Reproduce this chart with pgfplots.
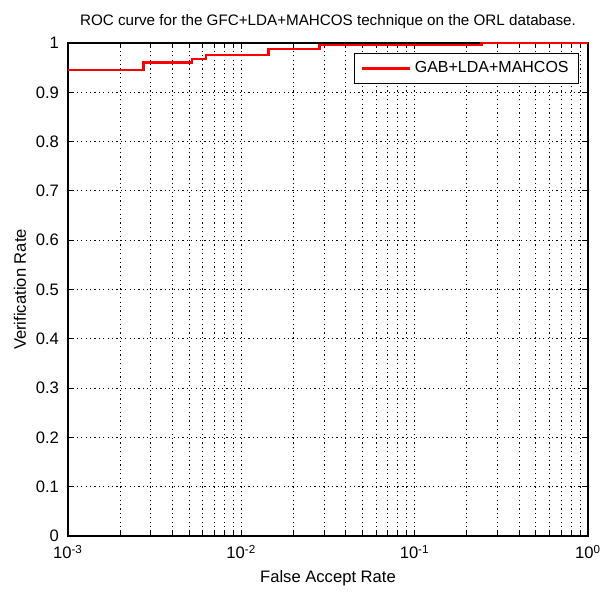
\documentclass[border=0pt]{standalone}
\usepackage{fontspec}
\setmainfont{Liberation Sans}
\usepackage{pgfplots}
\pgfplotsset{compat=1.18}
\begin{document}
\begin{tikzpicture}
\begin{axis}[
    at={(0pt,0pt)}, anchor=south west,
    scale only axis, width=260pt, height=246.5pt,
    xmode=log, xmin=1e-3, xmax=1, ymin=0, ymax=1,
    font=\fontsize{8.3}{10}\selectfont,
    xtick={0.001,0.01,0.1,1},
    xticklabels={10\textsuperscript{-3},10\textsuperscript{-2},10\textsuperscript{-1},10\textsuperscript{0}},
    ytick={0,0.1,0.2,0.3,0.4,0.5,0.6,0.7,0.8,0.9,1},
    yticklabels={0,0.1,0.2,0.3,0.4,0.5,0.6,0.7,0.8,0.9,1},
    minor xtick={0.002,0.003,0.004,0.005,0.006,0.007,0.008,0.009,
                 0.02,0.03,0.04,0.05,0.06,0.07,0.08,0.09,
                 0.2,0.3,0.4,0.5,0.6,0.7,0.8,0.9},
    xmajorgrids, xminorgrids, ymajorgrids,
    major grid style={black, dash pattern=on 0.6pt off 1.6pt, line width=0.5pt},
    minor grid style={black, dash pattern=on 0.6pt off 1.6pt, line width=0.5pt},
    tick align=inside, major tick length=3pt, minor tick length=1.8pt,
    tick style={black, line width=0.5pt},
    axis line style={black, line width=0.6pt},
    xticklabel style={yshift=-1pt},
    yticklabel style={xshift=-1pt},
    title={ROC curve for the GFC+LDA+MAHCOS technique on the ORL database.},
    title style={at={(0.5,1)}, anchor=south, yshift=-2.5pt, font=\fontsize{7.6}{9}\selectfont},
    xlabel={False Accept Rate},
    ylabel={Verification Rate},
    xlabel style={yshift=1pt},
    ylabel style={yshift=-2pt},
    legend style={at={(0.983,0.98)}, anchor=north east, draw=black, line width=0.5pt,
                  font=\fontsize{8}{9.6}\selectfont, inner xsep=3pt, inner ysep=2pt},
    legend image code/.code={\draw[#1] (0pt,0pt) -- (24pt,0pt);},
    legend cell align=left,
]
\addplot[red, line width=1.3pt] coordinates {
    (0.001,0.945) (0.00273,0.945) (0.00273,0.960) (0.00519,0.960)
    (0.00519,0.9675) (0.00627,0.9675) (0.00627,0.976) (0.0143,0.976)
    (0.0143,0.9875) (0.0282,0.9875) (0.0282,0.996) (0.243,0.996)
    (0.243,1) (1,1)};
\legend{GAB+LDA+MAHCOS}
\end{axis}
\pgfresetboundingbox
\path (-34pt,-28.5pt) rectangle (270pt,268pt);
\end{tikzpicture}
\end{document}
